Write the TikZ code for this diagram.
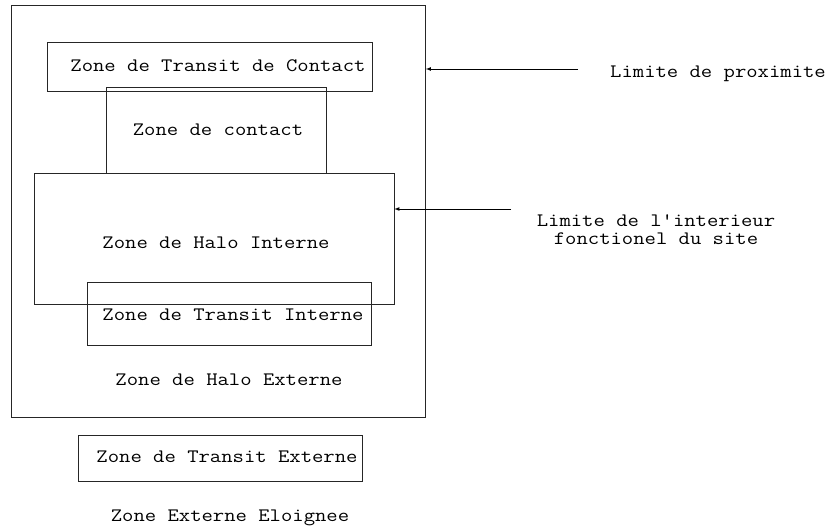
\documentclass[tikz,border=0pt]{standalone}
\usepackage{fontspec}
\setmonofont{Latin Modern Mono}[FakeStretch=1.16]
\begin{document}
\begin{tikzpicture}[x=1pt,y=-1pt,
  zone/.style={draw=black!85,line width=0.7pt,rectangle,inner sep=0pt},
  txt/.style={font=\ttfamily\fontsize{19}{18}\selectfont,inner sep=0pt}]
 \useasboundingbox (0,0) rectangle (828,531);

 \node[zone,minimum width=414pt,minimum height=412pt] (proxi) at (218.5,211) {};
 \node[zone,minimum width=325pt,minimum height=49pt] (trcontact) at (209.5,66.5) {};
 \node[zone,minimum width=220pt,minimum height=86pt] (contact) at (216,130) {};
 \node[zone,minimum width=360pt,minimum height=131pt] (halint) at (214,238.5) {};
 \node[zone,minimum width=284pt,minimum height=63pt] (trint) at (229,313.5) {};
 \node[zone,minimum width=284pt,minimum height=46pt] (trext) at (220,458) {};

 \node[txt] (ttrcontact) at (218,66) {Zone de Transit de Contact};
 \node[txt] (tcontact) at (218,130) {Zone de contact};
 \node[txt] (thalint) at (216,243) {Zone de Halo Interne};
 \node[txt] (ttrint) at (233,315) {Zone de Transit Interne};
 \node[txt] (thalext) at (229,380) {Zone de Halo Externe};
 \node[txt] (ttrext) at (227,457) {Zone de Transit Externe};
 \node[txt] (teloign) at (230,518) {Zone Externe Eloignee};

 \node[txt,anchor=west] (lproxi) at (610,74) {Limite de proximite};
 \node[txt,align=center] (lint) at (656,230) {Limite de l'interieur\\fonctionel du site};

 \coordinate (a1) at (578,69);
 \coordinate (a2) at (511,209);
 \draw[line width=0.7pt,-latex] (a1) -- (proxi.east |- a1);
 \draw[line width=0.7pt,-latex] (a2) -- (halint.east |- a2);
\end{tikzpicture}
\end{document}
